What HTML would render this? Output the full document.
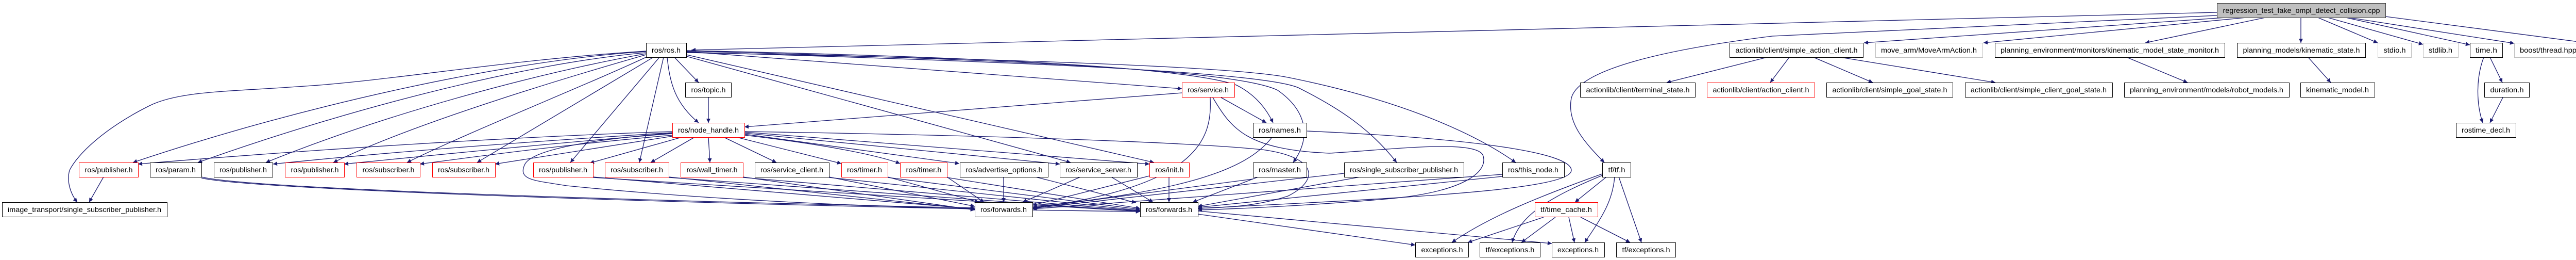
<!DOCTYPE html>
<html><head><meta charset="utf-8"><style>
html,body{margin:0;padding:0;background:#fff;}
svg{display:block;}
text{font-family:"Liberation Sans",sans-serif;font-size:14px;fill:#000;text-anchor:middle;}
.e{fill:none;stroke:#191970;stroke-width:1.3;marker-end:url(#a);}
.b{fill:#fff;stroke:#000;stroke-width:1;}
.r{fill:#fff;stroke:#ff0000;stroke-width:1;}
.g{fill:#fff;stroke:#bfbfbf;stroke-width:1;}
</style></head><body>
<svg width="5141" height="504" viewBox="0 0 5141 504" xmlns="http://www.w3.org/2000/svg">
<defs><marker id="a" viewBox="0 0 10 10" refX="10" refY="5" markerUnits="userSpaceOnUse" markerWidth="11" markerHeight="8" orient="auto"><path d="M0,0 L10,5 L0,10 z" fill="#191970"/></marker></defs>
<g>
<path class="e" d="M4303,24 L1342,97"/>
<path class="e" d="M4303,30 L3440,70 C3200,100 3063,140 3050,190 C3040,240 3080,280 3114,315"/>
<path class="e" d="M4320,34 L3618,83"/>
<path class="e" d="M4360,34 L3850,83"/>
<path class="e" d="M4397,34 L4164,83"/>
<path class="e" d="M4466,34 L4466,83"/>
<path class="e" d="M4499,34 L4615,83"/>
<path class="e" d="M4518,34 L4703,86"/>
<path class="e" d="M4553,34 L4794,87"/>
<path class="e" d="M4559,34 L4880,84"/>
<path class="e" d="M4630,32 L5036,85"/>
<path class="e" d="M4480,111 L4524,160"/>
<path class="e" d="M4833,111 L4857,160"/>
<path class="e" d="M4821,111 C4806,150 4806,200 4819,238"/>
<path class="e" d="M4858,189 L4833,238"/>
<path class="e" d="M4128,111 L4246,160"/>
<path class="e" d="M3430,111 L3235,160"/>
<path class="e" d="M3473,111 L3436,160"/>
<path class="e" d="M3520,111 L3635,160"/>
<path class="e" d="M3572,111 L3873,160"/>
<path class="e" d="M3118,343 L3057,392"/>
<path class="e" d="M3134,343 C3130,390 3110,420 3076,470"/>
<path class="e" d="M3142,343 L3186,470"/>
<path class="e" d="M3110,337 C2990,380 2890,420 2818,470"/>
<path class="e" d="M3110,340 C3000,385 2950,420 2935,470"/>
<path class="e" d="M2996,421 L2849,470"/>
<path class="e" d="M3019,421 L2953,470"/>
<path class="e" d="M3045,421 L3056,470"/>
<path class="e" d="M3068,421 L3164,470"/>
<path class="e" d="M2325,415 L2747,475"/>
<path class="e" d="M2325,409 L3012,472"/>
<path class="e" d="M1254,99 C1000,115 800,150 620,165 C450,178 350,175 290,205 C200,250 150,300 135,330 C128,355 140,380 150,392"/>
<path class="e" d="M1254,100 C1000,115 600,200 258,315"/>
<path class="e" d="M1254,102 C1000,125 650,220 384,315"/>
<path class="e" d="M1254,104 C1050,140 750,220 516,315"/>
<path class="e" d="M1254,106 C1100,150 800,240 647,315"/>
<path class="e" d="M1258,109 C1150,160 900,260 790,315"/>
<path class="e" d="M1268,111 L926,315"/>
<path class="e" d="M1280,111 L1107,315"/>
<path class="e" d="M1288,111 L1241,315"/>
<path class="e" d="M1295,111 C1300,160 1310,200 1356,238"/>
<path class="e" d="M1309,111 L1356,160"/>
<path class="e" d="M1332,100 L2294,172"/>
<path class="e" d="M1332,109 L2078,315"/>
<path class="e" d="M1332,106 L2240,315"/>
<path class="e" d="M1332,98 C1900,110 2300,130 2400,165 C2440,185 2460,215 2471,238"/>
<path class="e" d="M1332,99 C1950,115 2400,135 2480,175 C2530,210 2550,260 2510,315"/>
<path class="e" d="M1332,101 C2000,120 2450,140 2520,170 C2600,210 2660,250 2711,315"/>
<path class="e" d="M1332,102 C2000,115 2400,130 2500,150 C2700,190 2850,250 2942,315"/>
<path class="e" d="M1375,189 L1375,238"/>
<path class="e" d="M2294,180 L1445,246"/>
<path class="e" d="M2370,189 L2458,238"/>
<path class="e" d="M2349,189 C2352,260 2340,360 2005,403"/>
<path class="e" d="M2354,189 C2390,250 2420,290 2580,297 C2700,290 2860,270 2878,300 C2890,330 2850,370 2700,385 C2550,398 2400,405 2325,407"/>
<path class="e" d="M2469,266 C2420,330 2300,370 2005,401"/>
<path class="e" d="M2536,254 C2900,270 3050,300 3050,330 C3050,370 2700,385 2325,404"/>
<path class="e" d="M1305,255 C1000,265 600,290 268,318"/>
<path class="e" d="M1305,257 C1100,270 800,290 530,318"/>
<path class="e" d="M1305,259 C1100,275 850,300 668,318"/>
<path class="e" d="M1305,262 C1100,280 950,300 815,318"/>
<path class="e" d="M1305,264 L961,318"/>
<path class="e" d="M1323,266 L1145,316"/>
<path class="e" d="M1348,266 L1263,315"/>
<path class="e" d="M1375,266 L1378,315"/>
<path class="e" d="M1405,266 L1507,315"/>
<path class="e" d="M1430,266 L1633,317"/>
<path class="e" d="M1445,262 C1600,280 1700,300 1747,317"/>
<path class="e" d="M1445,260 L1862,317"/>
<path class="e" d="M1445,258 L2057,318"/>
<path class="e" d="M1445,256 L2231,318"/>
<path class="e" d="M1445,255 C1900,262 2300,275 2450,290 C2560,305 2560,350 2500,380 C2440,400 2380,402 2325,404"/>
<path class="e" d="M1305,258 C1150,270 1030,290 1018,320 C1005,350 1040,350 1100,360 C1400,390 1700,400 1892,405"/>
<path class="e" d="M391,343 C500,370 1500,395 1892,403"/>
<path class="e" d="M391,345 C500,372 1700,405 2213,410"/>
<path class="e" d="M1151,343 L1892,405"/>
<path class="e" d="M1151,344 L2213,410"/>
<path class="e" d="M1298,343 L1892,406"/>
<path class="e" d="M1298,344 L2213,410"/>
<path class="e" d="M1442,343 L1892,407"/>
<path class="e" d="M1442,344 L2213,409"/>
<path class="e" d="M1609,343 L1892,400"/>
<path class="e" d="M1609,344 L2213,408"/>
<path class="e" d="M1723,343 L1900,392"/>
<path class="e" d="M1723,344 L2213,406"/>
<path class="e" d="M1838,343 L1910,392"/>
<path class="e" d="M1838,344 L2213,404"/>
<path class="e" d="M1948,343 L1948,392"/>
<path class="e" d="M2010,343 L2205,393"/>
<path class="e" d="M2097,343 L1985,392"/>
<path class="e" d="M2157,343 L2238,392"/>
<path class="e" d="M2231,341 L2004,398"/>
<path class="e" d="M2269,343 L2269,392"/>
<path class="e" d="M2432,347 L2004,403"/>
<path class="e" d="M2442,343 L2315,392"/>
<path class="e" d="M2609,336 L2004,404"/>
<path class="e" d="M2640,343 L2325,400"/>
<path class="e" d="M2916,338 L2004,405"/>
<path class="e" d="M2916,342 L2325,402"/>
<path class="e" d="M201,343 L173,392"/>
</g>
<g>
<rect x="4303.5" y="6.5" width="327" height="28" fill="#bfbfbf" stroke="#404040"/><text x="4467" y="25" textLength="305" lengthAdjust="spacingAndGlyphs">regression_test_fake_ompl_detect_collision.cpp</text>
<rect class="b" x="1254.5" y="83.5" width="78" height="28"/><text x="1293" y="102" textLength="56" lengthAdjust="spacingAndGlyphs">ros/ros.h</text>
<rect class="b" x="3357.5" y="83.5" width="259" height="28"/><text x="3487" y="102" textLength="237" lengthAdjust="spacingAndGlyphs">actionlib/client/simple_action_client.h</text>
<rect class="g" x="3640.5" y="83.5" width="208" height="28"/><text x="3744" y="102" textLength="186" lengthAdjust="spacingAndGlyphs">move_arm/MoveArmAction.h</text>
<rect class="b" x="3872.5" y="83.5" width="446" height="28"/><text x="4095" y="102" textLength="424" lengthAdjust="spacingAndGlyphs">planning_environment/monitors/kinematic_model_state_monitor.h</text>
<rect class="b" x="4342.5" y="83.5" width="249" height="28"/><text x="4467" y="102" textLength="227" lengthAdjust="spacingAndGlyphs">planning_models/kinematic_state.h</text>
<rect class="g" x="4615.5" y="83.5" width="65" height="28"/><text x="4648" y="102" textLength="43" lengthAdjust="spacingAndGlyphs">stdio.h</text>
<rect class="g" x="4703.5" y="83.5" width="68" height="28"/><text x="4737" y="102" textLength="46" lengthAdjust="spacingAndGlyphs">stdlib.h</text>
<rect class="b" x="4794.5" y="83.5" width="63" height="28"/><text x="4826" y="102" textLength="42" lengthAdjust="spacingAndGlyphs">time.h</text>
<rect class="g" x="4880.5" y="83.5" width="132" height="28"/><text x="4946" y="102" textLength="110" lengthAdjust="spacingAndGlyphs">boost/thread.hpp</text>
<rect class="g" x="5036.5" y="83.5" width="104" height="28"/><text x="5088" y="102" textLength="82" lengthAdjust="spacingAndGlyphs">gtest/gtest.h</text>

<rect class="b" x="1330.5" y="160.5" width="89" height="28"/><text x="1375" y="179" textLength="67" lengthAdjust="spacingAndGlyphs">ros/topic.h</text>
<rect class="r" x="2294.5" y="160.5" width="102" height="28"/><text x="2345" y="179" textLength="80" lengthAdjust="spacingAndGlyphs">ros/service.h</text>
<rect class="b" x="3067.5" y="160.5" width="223" height="28"/><text x="3179" y="179" textLength="201" lengthAdjust="spacingAndGlyphs">actionlib/client/terminal_state.h</text>
<rect class="r" x="3313.5" y="160.5" width="209" height="28"/><text x="3418" y="179" textLength="187" lengthAdjust="spacingAndGlyphs">actionlib/client/action_client.h</text>
<rect class="b" x="3545.5" y="160.5" width="245" height="28"/><text x="3668" y="179" textLength="223" lengthAdjust="spacingAndGlyphs">actionlib/client/simple_goal_state.h</text>
<rect class="b" x="3814.5" y="160.5" width="286" height="28"/><text x="3957" y="179" textLength="264" lengthAdjust="spacingAndGlyphs">actionlib/client/simple_client_goal_state.h</text>
<rect class="b" x="4123.5" y="160.5" width="320" height="28"/><text x="4283" y="179" textLength="298" lengthAdjust="spacingAndGlyphs">planning_environment/models/robot_models.h</text>
<rect class="b" x="4465.5" y="160.5" width="144" height="28"/><text x="4537" y="179" textLength="122" lengthAdjust="spacingAndGlyphs">kinematic_model.h</text>
<rect class="b" x="4822.5" y="160.5" width="87" height="28"/><text x="4866" y="179" textLength="65" lengthAdjust="spacingAndGlyphs">duration.h</text>

<rect class="r" x="1305.5" y="238.5" width="140" height="28"/><text x="1375" y="257" textLength="118" lengthAdjust="spacingAndGlyphs">ros/node_handle.h</text>
<rect class="b" x="2432.5" y="238.5" width="104" height="28"/><text x="2484" y="257" textLength="82" lengthAdjust="spacingAndGlyphs">ros/names.h</text>
<rect class="b" x="4767.5" y="238.5" width="116" height="28"/><text x="4825" y="257" textLength="94" lengthAdjust="spacingAndGlyphs">rostime_decl.h</text>

<rect class="r" x="153.5" y="315.5" width="115" height="28"/><text x="211" y="334" textLength="93" lengthAdjust="spacingAndGlyphs">ros/publisher.h</text>
<rect class="b" x="291.5" y="315.5" width="100" height="28"/><text x="341" y="334" textLength="78" lengthAdjust="spacingAndGlyphs">ros/param.h</text>
<rect class="b" x="415.5" y="315.5" width="114" height="28"/><text x="472" y="334" textLength="92" lengthAdjust="spacingAndGlyphs">ros/publisher.h</text>
<rect class="r" x="553.5" y="315.5" width="115" height="28"/><text x="611" y="334" textLength="93" lengthAdjust="spacingAndGlyphs">ros/publisher.h</text>
<rect class="r" x="692.5" y="315.5" width="123" height="28"/><text x="754" y="334" textLength="101" lengthAdjust="spacingAndGlyphs">ros/subscriber.h</text>
<rect class="r" x="839.5" y="315.5" width="122" height="28"/><text x="900" y="334" textLength="100" lengthAdjust="spacingAndGlyphs">ros/subscriber.h</text>
<rect class="r" x="1035.5" y="315.5" width="116" height="28"/><text x="1093" y="334" textLength="94" lengthAdjust="spacingAndGlyphs">ros/publisher.h</text>
<rect class="r" x="1174.5" y="315.5" width="124" height="28"/><text x="1236" y="334" textLength="102" lengthAdjust="spacingAndGlyphs">ros/subscriber.h</text>
<rect class="r" x="1321.5" y="315.5" width="121" height="28"/><text x="1382" y="334" textLength="99" lengthAdjust="spacingAndGlyphs">ros/wall_timer.h</text>
<rect class="b" x="1465.5" y="315.5" width="144" height="28"/><text x="1537" y="334" textLength="122" lengthAdjust="spacingAndGlyphs">ros/service_client.h</text>
<rect class="r" x="1633.5" y="315.5" width="90" height="28"/><text x="1678" y="334" textLength="68" lengthAdjust="spacingAndGlyphs">ros/timer.h</text>
<rect class="r" x="1747.5" y="315.5" width="91" height="28"/><text x="1793" y="334" textLength="69" lengthAdjust="spacingAndGlyphs">ros/timer.h</text>
<rect class="b" x="1863.5" y="315.5" width="171" height="28"/><text x="1949" y="334" textLength="149" lengthAdjust="spacingAndGlyphs">ros/advertise_options.h</text>
<rect class="b" x="2057.5" y="315.5" width="150" height="28"/><text x="2132" y="334" textLength="128" lengthAdjust="spacingAndGlyphs">ros/service_server.h</text>
<rect class="r" x="2231.5" y="315.5" width="77" height="28"/><text x="2270" y="334" textLength="55" lengthAdjust="spacingAndGlyphs">ros/init.h</text>
<rect class="b" x="2432.5" y="315.5" width="104" height="28"/><text x="2484" y="334" textLength="82" lengthAdjust="spacingAndGlyphs">ros/master.h</text>
<rect class="b" x="2609.5" y="315.5" width="232" height="28"/><text x="2725" y="334" textLength="210" lengthAdjust="spacingAndGlyphs">ros/single_subscriber_publisher.h</text>
<rect class="b" x="2916.5" y="315.5" width="120" height="28"/><text x="2976" y="334" textLength="98" lengthAdjust="spacingAndGlyphs">ros/this_node.h</text>
<rect class="b" x="3110.5" y="315.5" width="55" height="28"/><text x="3138" y="334" textLength="33" lengthAdjust="spacingAndGlyphs">tf/tf.h</text>

<rect class="b" x="4.5" y="392.5" width="320" height="28"/><text x="164" y="411" textLength="298" lengthAdjust="spacingAndGlyphs">image_transport/single_subscriber_publisher.h</text>
<rect class="b" x="1892.5" y="392.5" width="112" height="28"/><text x="1948" y="411" textLength="90" lengthAdjust="spacingAndGlyphs">ros/forwards.h</text>
<rect class="b" x="2213.5" y="392.5" width="112" height="28"/><text x="2269" y="411" textLength="90" lengthAdjust="spacingAndGlyphs">ros/forwards.h</text>
<rect class="r" x="2979.5" y="392.5" width="122" height="28"/><text x="3040" y="411" textLength="100" lengthAdjust="spacingAndGlyphs">tf/time_cache.h</text>

<rect class="b" x="2747.5" y="470.5" width="103" height="28"/><text x="2799" y="489" textLength="81" lengthAdjust="spacingAndGlyphs">exceptions.h</text>
<rect class="b" x="2872.5" y="470.5" width="117" height="28"/><text x="2931" y="489" textLength="95" lengthAdjust="spacingAndGlyphs">tf/exceptions.h</text>
<rect class="b" x="3012.5" y="470.5" width="102" height="28"/><text x="3063" y="489" textLength="80" lengthAdjust="spacingAndGlyphs">exceptions.h</text>
<rect class="b" x="3137.5" y="470.5" width="115" height="28"/><text x="3195" y="489" textLength="93" lengthAdjust="spacingAndGlyphs">tf/exceptions.h</text>
</g>
</svg>
</body></html>
